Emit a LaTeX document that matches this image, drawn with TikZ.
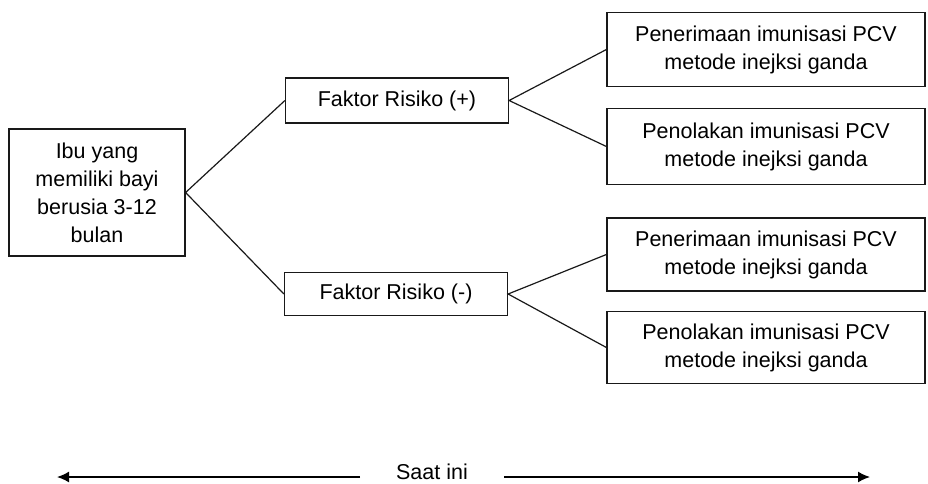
\documentclass[tikz,border=0pt]{standalone}
\usepackage{fontspec}
\setmainfont{Liberation Sans}
\usepackage{xcolor}
\usepackage{tikz}
\usetikzlibrary{arrows.meta,positioning}
\definecolor{garis}{RGB}{25,25,25}
\tikzset{
  kotak/.style={draw=garis,line width=1.2pt,align=center,inner sep=0pt,
                font=\fontsize{21.5}{28}\selectfont},
  cabang/.style={draw=garis,line width=1.2pt},
  panah/.style={draw=black,line width=1.5pt,-{Latex[length=12pt,width=11pt]}}
}
\begin{document}
\begin{tikzpicture}[x=1pt,y=-1pt]
      \useasboundingbox (0,0) rectangle (928,483);
      \node[kotak,minimum width=176pt,minimum height=127pt](ibu) at (97,192.5)
           {Ibu yang\\memiliki bayi\\berusia 3-12\\bulan};
      \node[kotak,minimum width=223pt,minimum height=45pt](fplus) at (397,100.5){Faktor Risiko (+)};
      \node[kotak,minimum width=223pt,minimum height=43pt](fmin) at (396,294){Faktor Risiko (-)};
      \node[kotak,minimum width=318pt,minimum height=74pt](terima1) at (766,49.5)
           {Penerimaan imunisasi PCV\\metode inejksi ganda};
      \node[kotak,minimum width=318pt,minimum height=76pt](tolak1) at (766,146.5)
           {Penolakan imunisasi PCV\\metode inejksi ganda};
      \node[kotak,minimum width=318pt,minimum height=73pt](terima2) at (766,254.5)
           {Penerimaan imunisasi PCV\\metode inejksi ganda};
      \node[kotak,minimum width=318pt,minimum height=72pt](tolak2) at (766,347.5)
           {Penolakan imunisasi PCV\\metode inejksi ganda};
      % cabang pohon
      \draw[cabang](fplus.west)--(ibu.east)--(fmin.west);
      \draw[cabang](terima1.west)--(fplus.east)--(tolak1.west);
      \draw[cabang](terima2.west)--(fmin.east)--(tolak2.west);
      % garis waktu
      \node[anchor=base,font=\fontsize{21.5}{26}\selectfont](saat) at (432,479){Saat ini};
      \coordinate (kiriA) at (360,477);
      \coordinate (kiriB) at (57,477);
      \coordinate (kananA) at (504,477);
      \coordinate (kananB) at (870,477);
      \draw[panah](kiriA)--(kiriB);
      \draw[panah](kananA)--(kananB);
    \end{tikzpicture}
\end{document}
